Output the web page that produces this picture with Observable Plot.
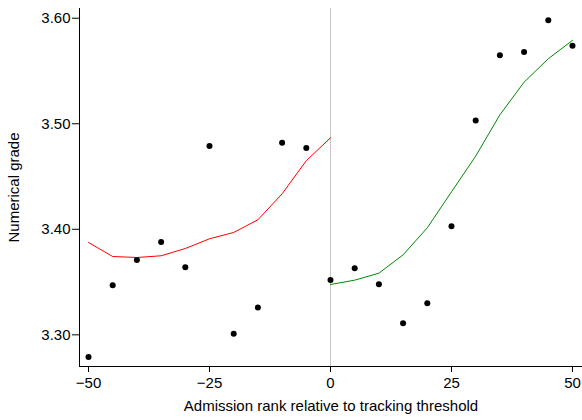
<!DOCTYPE html>
<html>
<head>
<meta charset="utf-8">
<script src="https://cdn.jsdelivr.net/npm/d3@7"></script>
<script src="https://cdn.jsdelivr.net/npm/@observablehq/plot@0.6"></script>
<style>
  html, body { margin: 0; padding: 0; background: #fff; }
  #chart svg { display: block; }
</style>
</head>
<body>
<div id="chart"></div>
<script>
// Binned means (dots)
const rankBins = [-50,-45,-40,-35,-30,-25,-20,-15,-10,-5,0,5,10,15,20,25,30,35,40,45,50];
const binMeans = [3.279,3.347,3.371,3.388,3.364,3.479,3.301,3.326,3.482,3.477,
                  3.352,3.363,3.348,3.311,3.330,3.403,3.503,3.565,3.568,3.598,3.574];
// Fitted curve, left of threshold (red)
const leftRanks = [-50,-45,-40,-35,-30,-25,-20,-15,-10,-5,0];
const leftFit = [3.3875,3.3742,3.3733,3.3749,3.3818,3.391,3.397,3.409,3.4336,3.465,3.4867];
// Fitted curve, right of threshold (green)
const rightRanks = [0,5,10,15,20,25,30,35,40,45,50];
const rightFit = [3.3477,3.3518,3.3584,3.3758,3.4014,3.4355,3.4693,3.5085,3.5394,3.5616,3.579];
const threshold = [0];
const xTicks = [-50,-25,0,25,50];
const yTicks = [3.30,3.40,3.50,3.60];

const dots = rankBins.map((x, i) => ({x, y: binMeans[i]}));
const left = leftRanks.map((x, i) => ({x, y: leftFit[i]}));
const right = rightRanks.map((x, i) => ({x, y: rightFit[i]}));

const chart = Plot.plot({
  width: 582,
  height: 420,
  marginLeft: 79,
  marginRight: 0,
  marginTop: 8,
  marginBottom: 54,
  style: {fontFamily: "'Liberation Sans', Arial, sans-serif", fontSize: "15px", color: "#000", background: "#fff"},
  x: {domain: [-51.86, 52.07]},
  y: {domain: [3.2700, 3.6092]},
  marks: [
    Plot.ruleX(threshold, {stroke: "#c8c8c8", strokeWidth: 1}),
    Plot.line(left, {x: "x", y: "y", stroke: "#ff0000", strokeWidth: 1}),
    Plot.line(right, {x: "x", y: "y", stroke: "#008a00", strokeWidth: 1}),
    Plot.dot(dots, {x: "x", y: "y", r: 3, fill: "#000", stroke: "none"}),
    Plot.frame({anchor: "left", stroke: "#000"}),
    Plot.frame({anchor: "bottom", stroke: "#000"}),
    Plot.axisX({ticks: xTicks, tickSize: 6, tickPadding: 5, fontSize: 15,
      tickFormat: d => d < 0 ? "\u2212" + Math.abs(d) : String(d),
      label: "Admission rank relative to tracking threshold", labelAnchor: "center", labelArrow: "none", labelOffset: 44}),
    Plot.axisY({ticks: yTicks, tickSize: 7, tickPadding: 2, fontSize: 15,
      tickFormat: d3.format(".2f"),
      label: "Numerical grade", labelAnchor: "center", labelArrow: "none", labelOffset: 71})
  ]
});
document.getElementById("chart").appendChild(chart);
</script>
</body>
</html>
